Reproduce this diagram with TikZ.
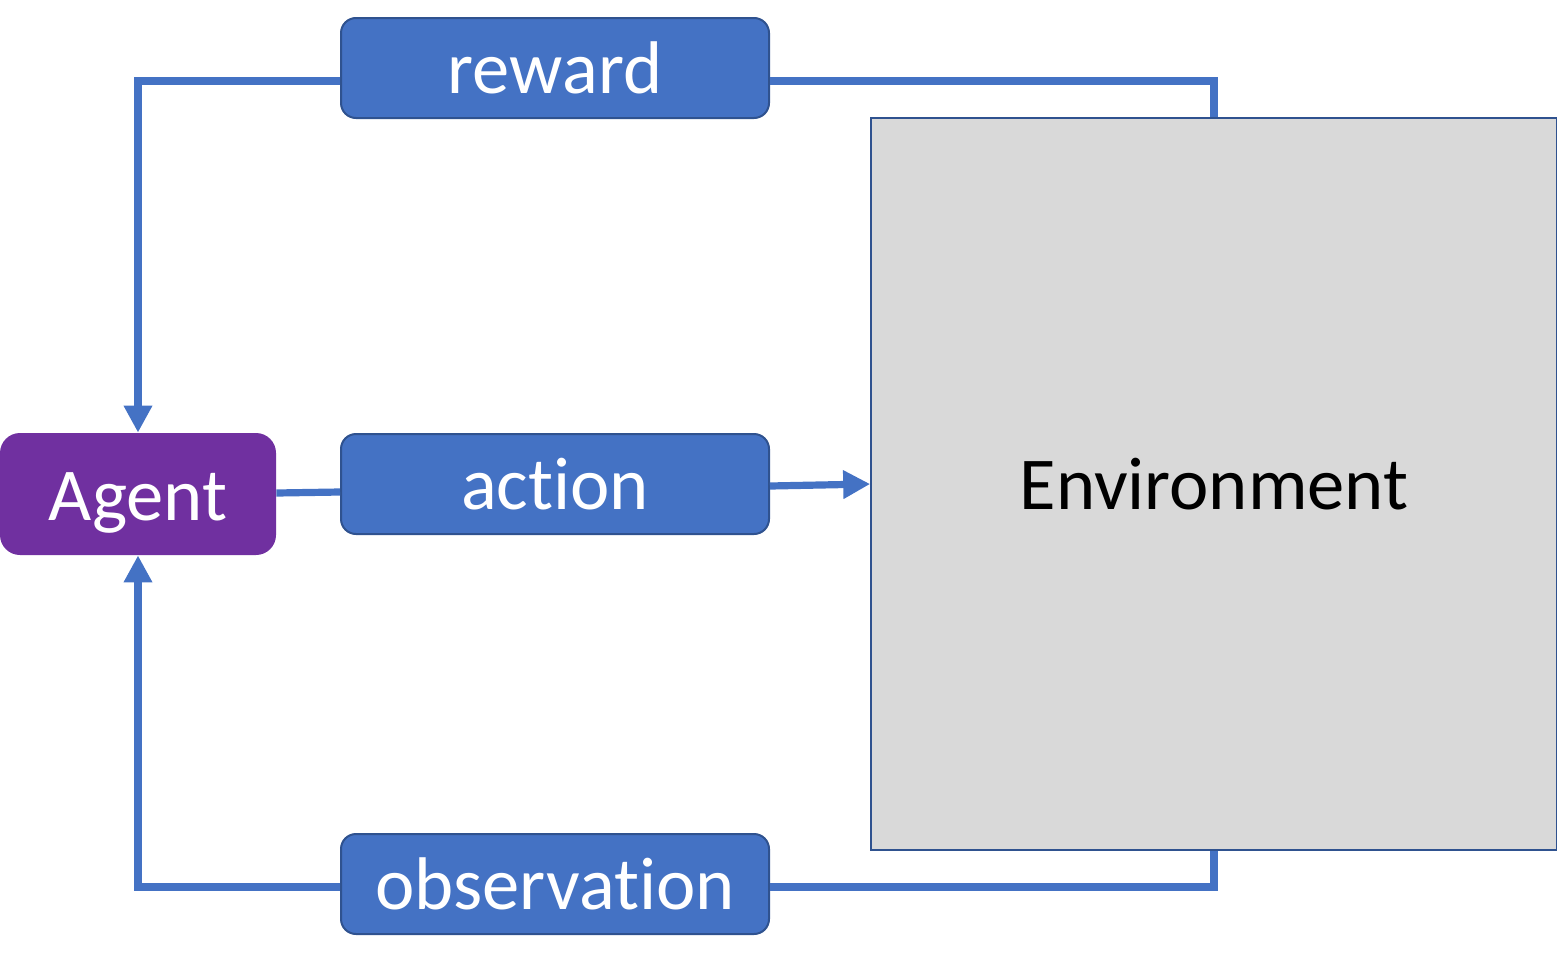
\documentclass[tikz,border=0pt]{standalone}
\usepackage{fontspec}
\setmainfont{Carlito}[Ligatures=NoCommon]
\usetikzlibrary{arrows.meta}
\definecolor{boxblue}{HTML}{4472C4}
\definecolor{edgeblue}{HTML}{2F528F}
\definecolor{agentpurple}{HTML}{7030A0}
\definecolor{envgray}{HTML}{D9D9D9}
\begin{document}
\begin{tikzpicture}[x=0.5pt,y=-0.5pt,
  labelbox/.style={draw=edgeblue,line width=1pt,fill=boxblue,rounded corners=7.5pt,
    minimum width=214pt,minimum height=50pt,inner sep=0pt,text=white,
    font=\fontsize{37.3}{40}\selectfont},
  agentbox/.style={fill=agentpurple,rounded corners=10pt,
    minimum width=138pt,minimum height=61pt,inner sep=0pt,text=white,
    text height=26pt,text depth=0pt,
    font=\fontsize{37.3}{40}\selectfont},
  envbox/.style={draw=edgeblue,line width=0.8pt,fill=envgray,
    minimum width=343pt,minimum height=366pt,inner sep=0pt,text=black,
    font=\fontsize{37.3}{40}\selectfont},
  link/.style={draw=boxblue,line width=3.6pt},
  arrowlink/.style={link,-{Triangle[width=13.5pt,length=13.5pt]}}]
\useasboundingbox (0,0) rectangle (1557,975);
\node[envbox] (env) at (1214,484) {Environment};
\node[labelbox] (reward) at (555,68) {reward};
\node[labelbox] (action) at (555,484) {action};
\node[labelbox] (obs) at (555,884) {observation};
\node[agentbox] (agent) at (138,494) {Agent};
\coordinate (rl) at (138,81);
\coordinate (rr) at (1214,81);
\coordinate (ol) at (138,887);
\coordinate (or) at (1214,887);
\draw[arrowlink] (reward.west |- rl) -- (rl) -- (agent.north);
\draw[link] (reward.east |- rr) -- (rr) -- (env.north -| rr);
\draw[link] (env.south -| or) -- (or) -- (obs.east |- or);
\draw[arrowlink] (obs.west |- ol) -- (ol) -- (agent.south);
\draw[link] ([yshift=0.5pt]agent.east) -- ([yshift=1pt]agent.east -| action.west);
\draw[arrowlink] ([yshift=-1pt]action.east) -- ([yshift=0pt]env.west);
\end{tikzpicture}
\end{document}
